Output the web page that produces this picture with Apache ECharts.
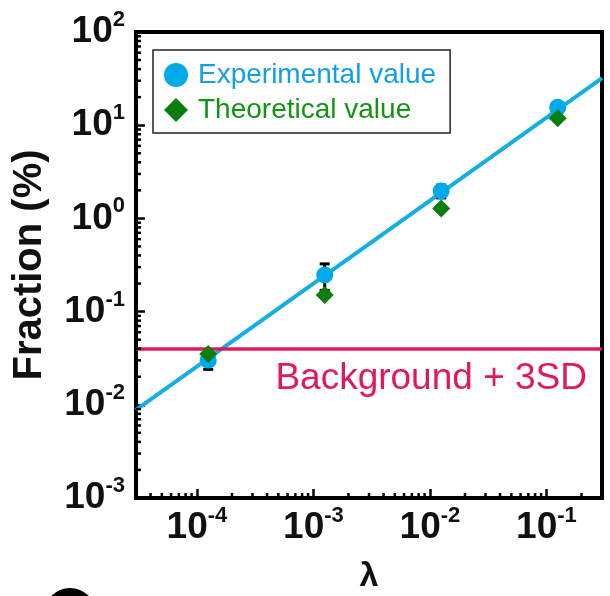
<!DOCTYPE html>
<html>
<head>
<meta charset="utf-8">
<script src="https://cdn.jsdelivr.net/npm/echarts@6/dist/echarts.min.js"></script>
<style>
  html, body { margin: 0; padding: 0; background: #fff; }
  #chart { width: 610px; height: 596px; }
</style>
</head>
<body>
<div id="chart"></div>
<script>
// lambda values of the four measurements
const lambdas = [1.25e-4, 1.25e-3, 1.25e-2, 1.25e-1];
// fraction (%) measured / theory
const experimental = [0.030, 0.247, 1.97, 15.6];
const expError = [0.006, 0.078, 0.31, 1.2];
const theoretical = [0.035, 0.151, 1.28, 11.9];
// power-law fit read at the two plot edges
const fitX = [3e-5, 0.3];
const fitY = [0.0088, 32];
const background = 0.041;
// minor tick multipliers per decade
const minorMult = [2, 3, 4, 5, 6, 7, 8, 9];
const xDecades = [1e-5, 1e-4, 1e-3, 1e-2, 1e-1];
const yDecades = [1e-3, 1e-2, 1e-1, 1, 10];

const X_MIN = 3e-5, X_MAX = 0.3, Y_MIN = 1e-3, Y_MAX = 100;
const FONT = 'Liberation Sans, Arial, sans-serif';
const BLUE = '#00aae9';
const GREEN = '#0a7e0e';
const PINK = '#e0195c';

const xMinor = [];
xDecades.forEach(d => minorMult.forEach(m => {
  const v = d * m;
  if (v > X_MIN * 1.0001 && v < X_MAX * 0.9999) xMinor.push([v, Y_MIN]);
}));
const yMinor = [];
yDecades.forEach(d => minorMult.forEach(m => {
  const v = d * m;
  if (v > Y_MIN && v < Y_MAX) yMinor.push([X_MIN, v]);
}));

const powLabel = (v) => {
  const e = Math.log10(v);
  if (Math.abs(e - Math.round(e)) > 1e-6) return '';
  return '{b|10}{s|' + Math.round(e) + '}';
};
// superscript: small token pinned to top of a tall line
const richPow = {
  b: { fontSize: 37, fontWeight: 'bold', fontFamily: FONT, color: '#111', lineHeight: 44, height: 44 },
  s: { fontSize: 22, fontWeight: 'bold', fontFamily: FONT, color: '#111', lineHeight: 44, height: 20, verticalAlign: 'top' }
};

const chart = echarts.init(document.getElementById('chart'));

const option = {
  animation: false,
  grid: {
    left: 136, right: 8, top: 32, bottom: 98,
    outerBoundsMode: 'none',
    containLabel: false,
    show: true, borderColor: '#000', borderWidth: 4
  },
  legend: {
    orient: 'vertical',
    left: 153, top: 50,
    padding: [11, 14, 9, 11],
    itemWidth: 24, itemHeight: 24, itemGap: 7,
    borderColor: '#222', borderWidth: 1.5,
    textStyle: { fontSize: 28, fontFamily: FONT, padding: [0, 0, 0, 5] },
    data: [
      { name: 'Experimental value', icon: 'circle', textStyle: { color: '#129fe8' } },
      { name: 'Theoretical value', icon: 'diamond', textStyle: { color: '#149414' } }
    ]
  },
  xAxis: {
    type: 'log', logBase: 10, min: X_MIN, max: X_MAX,
    name: 'λ', nameLocation: 'middle', nameGap: 62,
    nameTextStyle: { fontSize: 34, fontWeight: 'bold', fontFamily: FONT, color: '#111' },
    axisLine: { lineStyle: { color: '#000', width: 4 } },
    axisTick: { inside: true, length: 9, lineStyle: { color: '#000', width: 2.5 } },
    minorTick: { show: false },
    splitLine: { show: false },
    axisLabel: { formatter: powLabel, rich: richPow, margin: 8 }
  },
  yAxis: {
    type: 'log', logBase: 10, min: Y_MIN, max: Y_MAX,
    name: 'Fraction (%)', nameLocation: 'middle', nameGap: 86,
    nameTextStyle: { fontSize: 40, fontWeight: 'bold', fontFamily: FONT, color: '#111' },
    axisLine: { lineStyle: { color: '#000', width: 4 } },
    axisTick: { inside: true, length: 9, lineStyle: { color: '#000', width: 2.5 } },
    minorTick: { show: false },
    splitLine: { show: false },
    axisLabel: { formatter: powLabel, rich: richPow, margin: 11 }
  },
  graphic: [
    { type: 'circle', shape: { cx: 70, cy: 614, r: 26 }, style: { fill: '#000' } }
  ],
  series: [
    {
      name: 'fit',
      type: 'line',
      data: fitX.map((x, i) => [x, fitY[i]]),
      symbol: 'none',
      lineStyle: { color: '#14aee6', width: 4 },
      z: 2,
      silent: true
    },
    {
      name: 'error',
      type: 'custom',
      data: lambdas.map((x, i) => [x, experimental[i] - expError[i], experimental[i] + expError[i]]),
      renderItem: (params, api) => {
        const lo = api.coord([api.value(0), api.value(1)]);
        const hi = api.coord([api.value(0), api.value(2)]);
        const w = 5;
        const st = { stroke: '#000', lineWidth: 3 };
        return {
          type: 'group',
          children: [
            { type: 'line', shape: { x1: lo[0], y1: lo[1], x2: hi[0], y2: hi[1] }, style: st },
            { type: 'line', shape: { x1: lo[0] - w, y1: lo[1], x2: lo[0] + w, y2: lo[1] }, style: st },
            { type: 'line', shape: { x1: hi[0] - w, y1: hi[1], x2: hi[0] + w, y2: hi[1] }, style: st }
          ]
        };
      },
      z: 3,
      silent: true
    },
    {
      name: 'Experimental value',
      type: 'scatter',
      data: lambdas.map((x, i) => [x, experimental[i]]),
      symbol: 'circle',
      symbolSize: 17,
      itemStyle: { color: BLUE, opacity: 1 },
      z: 4,
      markLine: {
        silent: true,
        symbol: 'none',
        data: [{ yAxis: background }],
        lineStyle: { color: PINK, width: 3.5, type: 'solid' },
        label: {
          formatter: 'Background + 3SD',
          position: 'insideEndBottom',
          distance: [15, 12],
          color: PINK, fontSize: 37, fontFamily: FONT
        }
      }
    },
    {
      name: 'Theoretical value',
      type: 'scatter',
      data: lambdas.map((x, i) => [x, theoretical[i]]),
      symbol: 'diamond',
      symbolSize: [18, 18],
      itemStyle: { color: GREEN, opacity: 1 },
      z: 5
    },
    {
      name: 'minorTicks',
      type: 'custom',
      data: xMinor.concat(yMinor),
      renderItem: (params, api) => {
        const p = api.coord([api.value(0), api.value(1)]);
        const isX = params.dataIndex < xMinor.length;
        const shape = isX
          ? { x1: p[0], y1: p[1], x2: p[0], y2: p[1] - 5 }
          : { x1: p[0], y1: p[1], x2: p[0] + 5, y2: p[1] };
        return { type: 'line', shape: shape, style: { stroke: '#000', lineWidth: 2.5 } };
      },
      clip: false,
      z: 6,
      silent: true
    }
  ]
};

chart.setOption(option);
window.addEventListener('resize', () => chart.resize());
</script>
</body>
</html>
